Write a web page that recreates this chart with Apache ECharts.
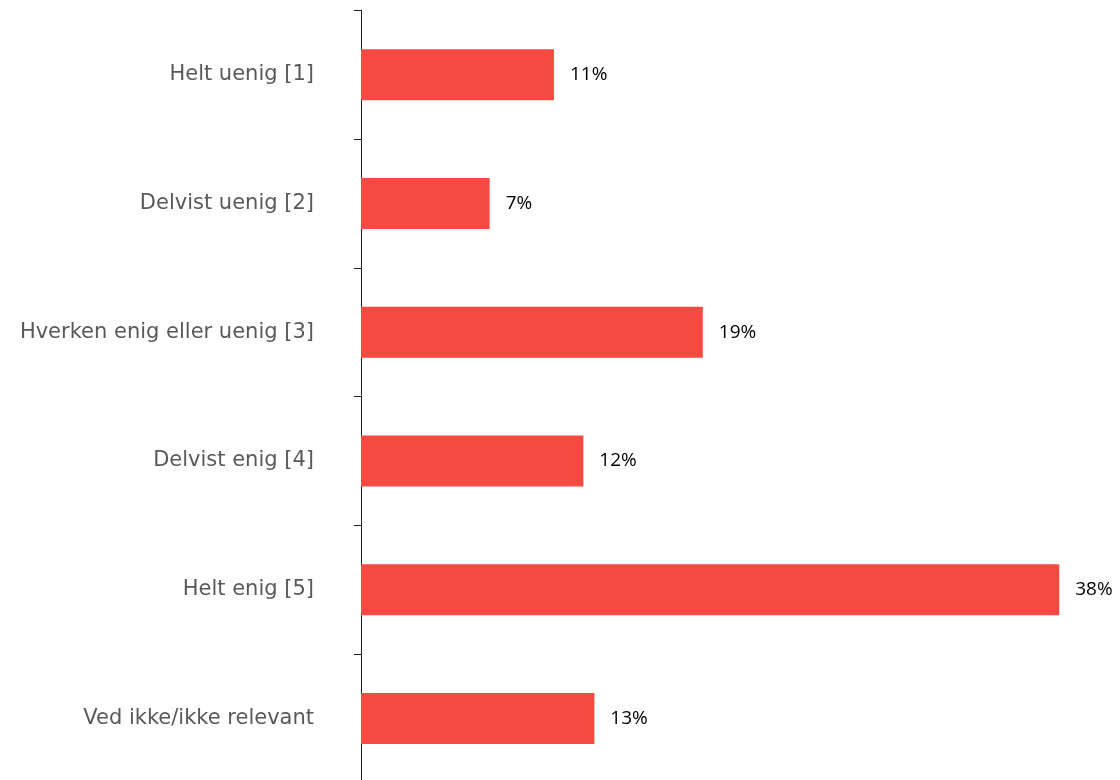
<!DOCTYPE html>
<html>
<head>
<meta charset="utf-8">
<script src="https://cdn.jsdelivr.net/npm/echarts@6/dist/echarts.min.js"></script>
<style>html,body{margin:0;padding:0;background:#fff}#c{width:1120px;height:780px}</style>
</head>
<body>
<div id="c"></div>
<script>
const categories = ["Helt uenig [1]", "Delvist uenig [2]", "Hverken enig eller uenig [3]", "Delvist enig [4]", "Helt enig [5]", "Ved ikke/ikke relevant"];
const values = [10.5, 7.0, 18.6, 12.1, 38.0, 12.7];

const chart = echarts.init(document.getElementById('c'), null, {renderer: 'canvas'});
chart.setOption({
  animation: false,
  grid: {left: 361, right: 24, top: 10.25, height: 772.5, outerBoundsMode: 'none', containLabel: false},
  xAxis: {
    type: 'value', min: 0, max: 40, show: false
  },
  yAxis: {
    type: 'category', data: categories, inverse: true,
    axisLine: {show: true, lineStyle: {color: '#222', width: 1}},
    axisTick: {show: true, length: 7, lineStyle: {color: '#222'}},
    axisLabel: {margin: 47, color: '#595959', fontFamily: 'DejaVu Sans', fontSize: 21}
  },
  series: [{
    type: 'bar', data: values, barWidth: 51,
    itemStyle: {color: '#F44A41'},
    label: {show: true, position: 'right', distance: 16, color: '#000', fontFamily: 'Open Sans', fontSize: 19,
      formatter: p => Math.round(p.value) + '%'}
  }]
});
</script>
</body>
</html>
